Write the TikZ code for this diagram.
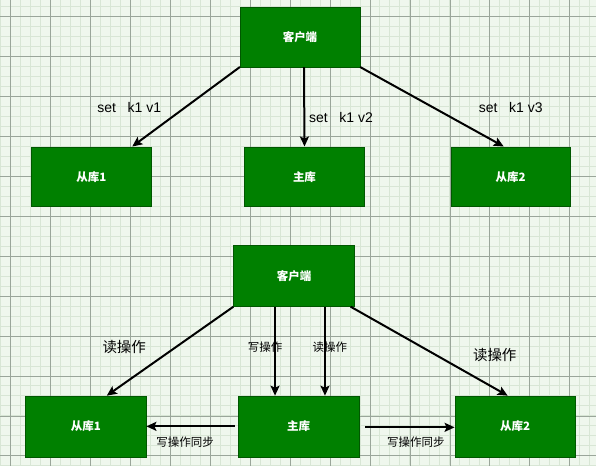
\documentclass[tikz,border=0pt]{standalone}
\usepackage{fontspec}
\setmainfont{Liberation Sans}
\newfontfamily\cjk{Noto Sans CJK SC}
\usetikzlibrary{arrows.meta}
\usetikzlibrary{calc}

\definecolor{gridbg}{HTML}{EFF7ED}
\definecolor{gridminor}{HTML}{D8E6D5}
\definecolor{gridmajor}{HTML}{9AA69A}
\definecolor{boxgreen}{HTML}{008000}
\definecolor{boxedge}{HTML}{005700}

\tikzset{
    dbbox/.style={draw=boxedge, fill=boxgreen, text=white, minimum width=120pt,
        minimum height=60pt, inner sep=0pt, font=\cjk\bfseries\fontsize{11.5}{13}\selectfont},
    link/.style={black, line width=2pt, -{Stealth[length=10pt,width=9pt,inset=2pt]}},
    cmdlabel/.style={font=\fontsize{14}{16}\selectfont},
    biglabel/.style={font=\cjk\fontsize{14.5}{16}\selectfont},
    smalllabel/.style={font=\cjk\fontsize{11.5}{13}\selectfont}
}

\begin{document}
\begin{tikzpicture}[x=1pt, y=-1pt]
        % grid background
        \fill[gridbg] (0,0) rectangle (596,466);
        \foreach \gx in {0,10,...,590} \draw[gridminor, line width=0.8pt] (\gx,0) -- (\gx,466);
        \foreach \gy in {6,16,...,466} \draw[gridminor, line width=0.8pt] (0,\gy) -- (596,\gy);
        \foreach \gx in {10,50,...,590} \draw[gridmajor, line width=0.6pt] (\gx,0) -- (\gx,466);
        \foreach \gy in {16,56,...,466} \draw[gridmajor, line width=0.6pt] (0,\gy) -- (596,\gy);
        \useasboundingbox (0,0) rectangle (596,466);

        % top: everyone gets the write
        \node[dbbox] (client1) at (300,36.5) {客户端};
        \node[dbbox] (slave1) at (91,176.5) {从库1};
        \node[dbbox] (master1) at (304.5,176.5) {主库};
        \node[dbbox] (slave2) at (511,176.5) {从库2};
        \draw[link] (client1.south west) -- ([xshift=41pt]slave1.north);
        \draw[link] ([xshift=4pt]client1.south) -- (master1.north);
        \draw[link] (client1.south east) -- ([xshift=-7pt]slave2.north);
        \node[cmdlabel] (lab1) at (129,107) {set\ \ \ k1 v1};
        \node[cmdlabel] (lab2) at (341,117) {set\ \ \ k1 v2};
        \node[cmdlabel] (lab3) at (511,107) {set\ \ \ k1 v3};

        % bottom: read/write split
        \node[dbbox, minimum width=121pt, minimum height=61pt] (client2) at (294,276) {客户端};
        \node[dbbox, minimum width=121pt, minimum height=61pt] (slave3) at (85.5,426.5) {从库1};
        \node[dbbox, minimum width=121pt, minimum height=61pt] (master2) at (298.5,426.5) {主库};
        \node[dbbox, minimum width=121pt, minimum height=61pt] (slave4) at (515.5,426.5) {从库2};
        \draw[link] (client2.south west) -- ([xshift=21pt]slave3.north);
        \draw[link] ([xshift=-19pt]client2.south) -- ([xshift=-23.5pt]master2.north);
        \draw[link] ([xshift=31pt]client2.south) -- ([xshift=26.5pt]master2.north);
        \draw[link] ([xshift=-4pt]client2.south east) -- ([xshift=-7.5pt]slave4.north);
        \draw[link] ([xshift=-3pt]master2.west) -- (slave3.east);
        \draw[link] ([xshift=6pt, yshift=-1pt]master2.east) -- ([yshift=-1pt]slave4.west);
        \node[biglabel] (read1) at (124,347) {读操作};
        \node[smalllabel] (write1) at (265,347) {写操作};
        \node[smalllabel] (read2) at (330,347) {读操作};
        \node[biglabel] (read3) at (495,355) {读操作};
        \node[smalllabel] (sync1) at (185,442) {写操作同步};
        \node[smalllabel] (sync2) at (416,442) {写操作同步};
    \end{tikzpicture}
\end{document}
